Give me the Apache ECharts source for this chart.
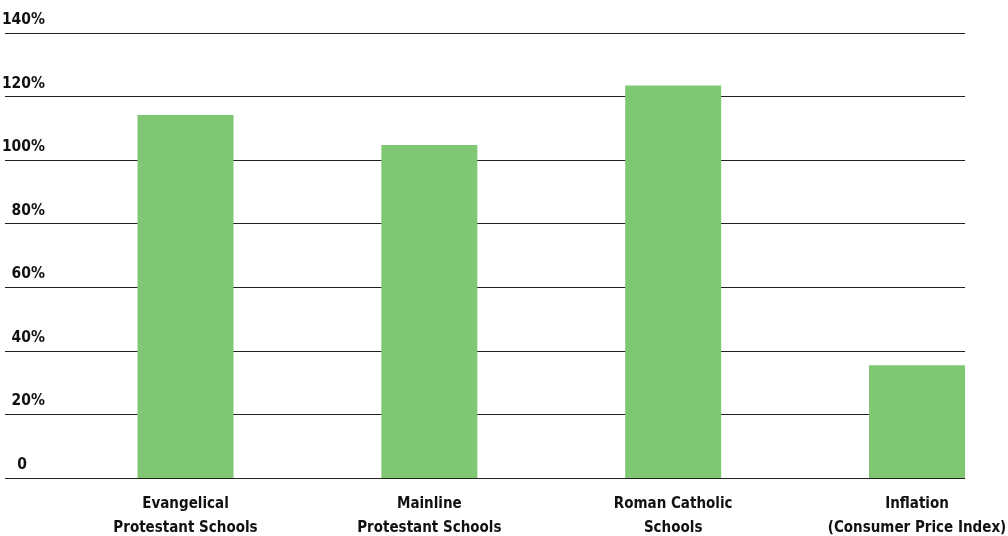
<!DOCTYPE html>
<html><head><meta charset="utf-8">
<script src="https://cdn.jsdelivr.net/npm/echarts@6/dist/echarts.min.js"></script>
<style>html,body{margin:0;padding:0;background:#fff}#c{width:1008px;height:536px}</style>
</head><body><div id="c"></div>
<script>
const categories = ['Evangelical\nProtestant Schools', 'Mainline\nProtestant Schools', 'Roman Catholic\nSchools', 'Inflation\n(Consumer Price Index)'];
const values = [114.2, 104.8, 123.5, 35.5];
const yTicks = [0, 20, 40, 60, 80, 100, 120, 140];

const FONT = '"Liberation Sans Narrow","DejaVu Sans Condensed","Roboto Condensed",sans-serif';
const chart = echarts.init(document.getElementById('c'));
chart.setOption({
  animation: false,
  grid: [
    {left: 5, right: 43, top: 33, bottom: 58, outerBoundsMode: 'none', containLabel: false},
    {left: 185.5, right: 91, top: 33, bottom: 58, outerBoundsMode: 'none', containLabel: false}
  ],
  xAxis: [
    {gridIndex: 0, type: 'category', data: categories, show: false},
    {gridIndex: 1, type: 'category', data: categories, boundaryGap: false,
      axisLine: {show: false}, axisTick: {show: false}, splitLine: {show: false},
      axisLabel: {fontFamily: FONT, fontWeight: 'bold', fontSize: 15, color: '#111', lineHeight: 24, margin: 14, interval: 0}}
  ],
  yAxis: [
    {gridIndex: 0, type: 'value', min: yTicks[0], max: yTicks[yTicks.length-1], interval: 20,
      axisLine: {show: false}, axisTick: {show: false},
      splitLine: {lineStyle: {color: '#222', width: 1}},
      axisLabel: {inside: true, align: 'right', verticalAlign: 'bottom', margin: 40,
        padding: [0, 0, 5, 0],
        fontFamily: FONT, fontWeight: 'bold', fontSize: 15.5, color: '#111',
        formatter: v => v === 0 ? '{z|0}' : v + '%',
        rich: {z: {fontFamily: FONT, fontWeight: 'bold', fontSize: 15.5, color: '#111', padding: [0, 18, 0, 0]}}}
    },
    {gridIndex: 1, type: 'value', min: yTicks[0], max: yTicks[yTicks.length-1], interval: 20, show: false, splitLine: {show: false}}
  ],
  series: [{
    type: 'bar', xAxisIndex: 1, yAxisIndex: 1, data: values, barWidth: 96, clip: false,
    itemStyle: {color: '#80C773'}
  }]
});
</script></body></html>
